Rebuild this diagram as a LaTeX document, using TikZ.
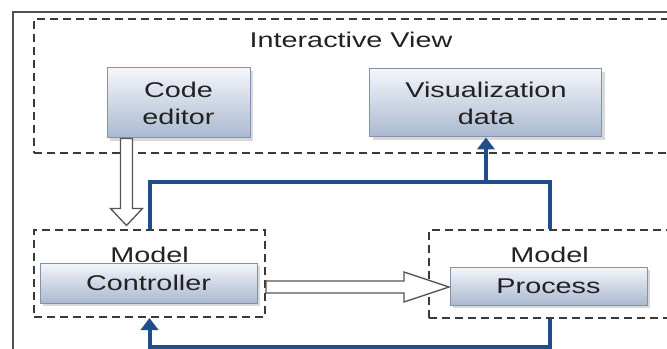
\documentclass[tikz,border=0pt]{standalone}
\usepackage{fontspec}
\setmainfont[FakeStretch=1.35]{Liberation Sans}
\usetikzlibrary{arrows.meta,positioning,shadows,calc}
\definecolor{boxtop}{HTML}{F4F6FB}
\definecolor{boxbot}{HTML}{AAB8CF}
\definecolor{boxline}{HTML}{8292AA}
\definecolor{dashgray}{HTML}{3A3A3A}
\definecolor{framegray}{HTML}{505050}
\definecolor{arrowgray}{HTML}{555555}
\definecolor{flowblue}{HTML}{1F4E8A}
\definecolor{txt}{HTML}{222222}
\tikzset{
  frame/.style  = { draw=framegray, line width=0.9pt },
  group/.style  = { draw=dashgray, line width=1.5pt, dash pattern=on 6pt off 3.75pt, inner sep=0pt },
  blk/.style    = { draw=boxline, line width=0.75pt, top color=boxtop, bottom color=boxbot,
    align=center, inner sep=0pt, text=txt, font=\fontsize{16}{20.25}\selectfont,
    drop shadow={shadow xshift=2pt, shadow yshift=-2pt, opacity=0.3} },
  lbl/.style    = { text=txt, inner sep=0pt, font=\fontsize{16}{20.25}\selectfont },
  hollow/.style = { draw=arrowgray, line width=1pt, fill=white, line join=miter },
  flow/.style   = { draw=flowblue, line width=3pt },
  flowto/.style = { flow, -{Triangle[length=9pt,width=13pt]} }
}
\begin{document}
\begin{tikzpicture}[x=0.75pt, y=-0.75pt, on grid, node distance=230.6pt]
    \path[use as bounding box, clip] (0,0) rectangle (667,349);
    % outer frame, runs off to the right and below
    \draw[frame] (13,360) |- (680,12);
    % dashed groups
    \node[group, minimum width=475.5pt, minimum height=100.5pt] (view) at (350.5,86) {};
    \node[lbl] (viewlbl) at (351,40) {Interactive View};
    \node[group, minimum width=173.25pt, minimum height=65.25pt] (mc) at (149.5,273.5) {};
    \node[group, minimum width=180.75pt, minimum height=66pt] (mp) at (549.5,274) {};
    \node[lbl, below=13.5pt of mc.north] (mcl) {Model};
    \node[lbl, below=13.5pt of mp.north] (mpl) {Model};
    % blocks
    \node[blk, minimum width=107.25pt, minimum height=52.5pt] (code) at (178.5,103) {Code\\editor};
    \node[blk, minimum width=174pt, minimum height=51pt, right=of code] (viz) {Visualization\\data};
    \node[blk, minimum width=162.75pt, minimum height=30pt] (ctrl) at (148.5,283) {Controller};
    \node[blk, minimum width=147.75pt, minimum height=28.5pt] (proc) at (548.5,286) {Process};
    % hollow arrows
    \draw[hollow] ($(code.south west)+(14,0)$) -- ++(0,70) -- ++(-10,0) -- ++(16,17)
      -- ++(16,-17) -- ++(-10,0) -- ++(0,-70) -- cycle;
    \draw[hollow] ($(ctrl.east -| mc.east)+(0,-2)$) -- ++(138,0) -- ++(0,-9) -- ++(45,15)
      -- ++(-45,15) -- ++(0,-9) -- ++(-138,0) -- cycle;
    % data flow
    \draw[flow] (mc.north) -- ++(0,-47) coordinate (bus) -| (mp.north);
    \draw[flowto] (bus -| viz.south) -- (viz.south);
    \draw[flowto] (mp.south) -- ++(0,28) -| (mc.south);
\end{tikzpicture}
\end{document}
